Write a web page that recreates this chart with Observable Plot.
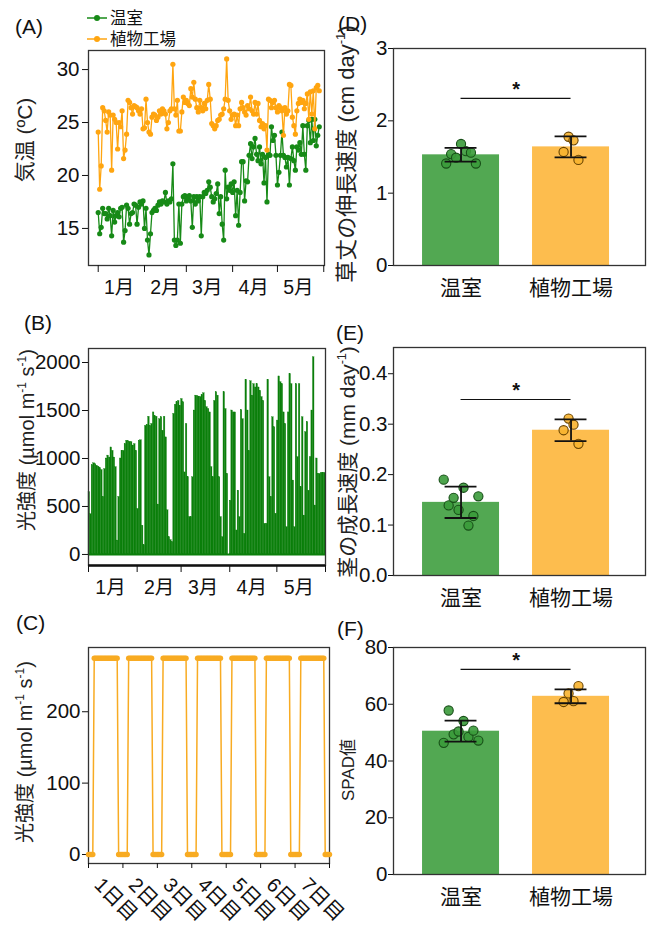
<!DOCTYPE html>
<html><head><meta charset="utf-8">
<script src="https://cdn.jsdelivr.net/npm/d3@7"></script>
<script src="https://cdn.jsdelivr.net/npm/@observablehq/plot@0.6"></script>
<style>
body{margin:0;background:#fff;}
#root{position:relative;width:650px;height:928px;overflow:hidden;background:#fff;}
.panel{position:absolute;}
.lbl{position:absolute;font-family:"Liberation Sans","Noto Sans CJK JP",sans-serif;color:#111;white-space:nowrap;line-height:1;}
.ytitle{position:absolute;transform:translate(-50%,-50%) rotate(-90deg);white-space:nowrap;font-family:"Liberation Sans","Noto Sans CJK JP",sans-serif;font-size:20px;color:#222;line-height:1;}
sup{font-size:0.6em;vertical-align:0.65em;line-height:0;}
</style></head><body><div id="root"></div>
<script>
// ---------- DATA ----------
const seriesNames = ["温室", "植物工場"];
const monthLabels = ["1月", "2月", "3月", "4月", "5月"];
// (A) daily air temperature from Jan 1 (°C)
const tempGreenhouse = [16.5,14.5,15.1,16.9,16.4,16.4,15.9,16.9,16.2,14.3,
16.7,15.6,16.2,16.5,16.1,16.9,17.0,13.7,14.8,17.2,
16.9,15.4,16.4,16.5,17.3,17.2,15.4,17.0,17.5,17.3,
17.6,15.0,16.9,13.9,12.5,14.5,16.5,16.7,16.9,16.7,
17.2,17.5,17.3,17.6,17.5,18.4,17.3,17.6,17.5,17.8,
21.1,13.9,13.4,13.9,17.3,13.6,17.3,18.0,18.1,17.6,
17.8,18.1,17.6,15.1,18.0,17.3,18.0,17.6,18.0,14.3,
18.0,18.4,18.3,18.6,19.4,18.9,18.0,17.5,17.8,18.3,
19.2,16.4,18.0,15.4,13.9,20.5,17.8,18.9,18.6,19.2,
18.4,19.4,16.2,18.6,15.3,18.4,21.3,21.3,17.6,19.5,
19.4,21.9,23.0,21.6,22.7,23.5,22.0,21.4,22.7,21.1,
22.0,19.3,21.7,17.5,22.0,21.9,24.6,23.3,23.8,21.9,
19.1,20.3,21.9,24.1,21.9,21.7,20.8,21.7,19.1,21.6,
22.7,21.4,20.5,22.7,22.4,23.1,22.0,24.7,22.0,20.5,
24.7,25.2,23.1,25.3,23.3,25.3,22.8,23.8,24.6];
const tempFactory = [24.1,18.7,20.9,26.4,26.1,25.2,24.1,26.0,25.7,20.5,
25.7,25.3,25.0,22.5,25.0,24.6,26.1,21.6,22.4,23.9,
27.1,26.9,26.4,25.8,26.6,26.5,26.4,26.1,25.8,26.3,
24.4,24.5,27.2,25.0,24.1,23.9,25.5,25.8,25.7,25.2,
25.5,26.1,25.8,26.3,26.1,25.8,24.4,25.0,26.1,26.3,
30.5,26.3,25.7,27.1,24.2,24.2,26.0,27.4,26.9,27.1,
26.8,26.6,28.2,27.4,28.8,27.2,26.4,26.0,27.1,26.4,
26.1,26.8,26.3,27.1,28.6,27.2,24.9,24.7,24.4,24.7,
25.2,25.3,25.7,25.8,26.3,27.2,31.0,27.1,26.1,25.3,
25.7,25.8,24.7,25.7,24.7,26.3,26.9,26.4,26.0,25.7,
26.6,26.3,27.4,26.1,25.8,26.9,25.8,26.8,25.2,24.6,
24.9,24.4,24.7,22.4,27.2,27.1,26.4,26.9,27.1,26.4,
26.0,26.6,26.4,26.1,23.8,26.4,25.8,26.1,28.6,28.5,
25.5,24.7,23.9,26.1,26.8,27.2,26.9,27.1,26.3,26.8,
27.7,25.3,27.9,25.8,28.0,24.4,28.3,28.5,28.0];
// (B) greenhouse daily peak light intensity from Jan 1 (µmol m-1 s-1)
const lightGreenhouse = [650,420,930,950,940,925,915,900,880,600,
890,1000,1030,1010,1115,1080,1010,910,145,600,
1000,1080,1080,1150,1185,1180,1175,1170,1135,1150,
1080,475,1185,1190,300,95,1340,1350,1435,1340,
1360,1480,1440,1435,520,1410,1430,1290,1435,1220,
460,180,150,130,1465,1560,1585,1600,1550,1620,
1585,855,1360,805,390,390,805,1500,1655,1650,
1645,1640,1660,1680,1600,1535,1515,1480,910,805,
1600,1690,1655,805,390,180,1690,1515,840,0,
560,1500,1480,1480,250,665,390,1505,1410,215,
1820,1500,1080,1805,1655,1775,1740,1775,1740,1705,
1640,1600,320,320,1820,805,600,1430,1325,425,
1395,1855,1795,1775,1480,1360,285,1480,1880,1775,
770,285,1775,1015,1775,700,1430,405,1275,1380,
665,1015,1500,2055,510,1000,840,840,850,850,850];
// (C) plant factory lighting schedule (hourly, 7 days)
const dayLabels = ["1日目","2日目","3日目","4日目","5日目","6日目","7日目"];
const lightsOnHour = [4,4,4,4,4,4,4];
const lightsOffHour = [21,21,21,21,21,21,21];
const factoryPPFD = 275;
// (D) plant height growth rate (cm day-1)
const heightGH = [1.41,1.54,1.49,1.68,1.58,1.56,1.41];
const heightPF = [1.57,1.78,1.73,1.46];
const heightMean = [1.53,1.64];
const heightSD = [0.095,0.145];
// (E) stem growth rate (mm day-1)
const stemGH = [0.190,0.139,0.154,0.130,0.174,0.099,0.118,0.157];
const stemPF = [0.288,0.311,0.299,0.261];
const stemMean = [0.145,0.288];
const stemSD = [0.031,0.0215];
// (F) SPAD
const spadGH = [46.4,57.8,49.4,50.4,54.1,48.5,50.7,47.2];
const spadPF = [60.8,63.8,61.1,66.4];
const spadMean = [50.5,62.8];
const spadSD = [3.7,2.45];
// significance bar levels
const sigLevel = [2.31,0.349,72.3];

// ---------- STYLE ----------
const FONT = '"Liberation Sans","Noto Sans CJK JP",sans-serif';
const GREEN_A = "#178a17", ORANGE_A = "#ffa510", GREEN_B = "#0b7f0b", ORANGE_C = "#f8ab22";
const BAR_FILL = ["#52a852", "#fdbd4e"], DOT_FILL = ["#3a9a3a", "#f7b22f"], DOT_STROKE = ["#174f17", "#6a4500"];
const root = document.getElementById("root");
function place(node, left, top){ const d=document.createElement("div"); d.className="panel"; d.style.left=left+"px"; d.style.top=top+"px"; d.appendChild(node); root.appendChild(d); }
function label(html, left, top, size, cls){ const d=document.createElement("div"); d.className=cls||"lbl"; d.innerHTML=html; d.style.left=left+"px"; d.style.top=top+"px"; d.style.fontSize=size+"px"; root.appendChild(d); }
const baseStyle = {fontFamily: FONT, fontSize: "20px", color: "#111", background: "transparent", overflow: "visible"};
const day = (i) => new Date(Date.UTC(2023, 0, 1 + i));
const intFmt = d3.format("d");

// ---------- (A) ----------
const aData = [
  ...tempGreenhouse.map((v,i)=>({date: day(i), v, s: seriesNames[0]})),
  ...tempFactory.map((v,i)=>({date: day(i), v, s: seriesNames[1]}))
];
const aGH = aData.filter(d=>d.s===seriesNames[0]), aPF = aData.filter(d=>d.s===seriesNames[1]);
const monthStarts = [0,1,2,3,4,5].map(m=>new Date(Date.UTC(2023,m,1)));
const monthMids = [0,1,2,3,4].map(m=>new Date(Date.UTC(2023,m,15)));
place(Plot.plot({
  width: 330, height: 310, marginLeft: 88, marginRight: 6, marginTop: 50, marginBottom: 45,
  style: baseStyle,
  x: {type: "utc", domain: [new Date(Date.UTC(2022,11,25,12)), new Date(Date.UTC(2023,5,1,12))], label: null},
  y: {domain: [11.5, 31.8], label: null},
  marks: [
    Plot.frame({stroke: "#333", strokeWidth: 1.3}),
    Plot.axisY({ticks: [15,20,25,30], tickFormat: intFmt, tickSize: 6, tickPadding: 3, fontSize: 20.5}),
    Plot.axisX({ticks: monthStarts, tickFormat: () => "", tickSize: 7}),
    Plot.axisX({ticks: monthMids, tickFormat: (d) => monthLabels[d.getUTCMonth()], tickSize: 0, tickPadding: 15, fontSize: 19.5}),
    Plot.line(aGH, {x: "date", y: "v", stroke: GREEN_A, strokeWidth: 1.3}),
    Plot.dot(aGH, {x: "date", y: "v", r: 2.6, fill: GREEN_A}),
    Plot.line(aPF, {x: "date", y: "v", stroke: ORANGE_A, strokeWidth: 1.3}),
    Plot.dot(aPF, {x: "date", y: "v", r: 2.6, fill: ORANGE_A})
  ]
}), 0, 0);

// legend (A)
const leg = document.createElement("div");
leg.className = "panel"; leg.style.left = "86px"; leg.style.top = "8px";
leg.innerHTML = `<svg width="24" height="42" style="position:absolute;left:0;top:0">
<line x1="1" x2="21" y1="10" y2="10" stroke="${GREEN_A}" stroke-width="1.5"/><circle cx="11" cy="10" r="3" fill="${GREEN_A}"/>
<line x1="1" x2="21" y1="31" y2="31" stroke="${ORANGE_A}" stroke-width="1.5"/><circle cx="11" cy="31" r="3" fill="${ORANGE_A}"/></svg>`;
root.appendChild(leg);
label(seriesNames[0], 110, 10, 16.5);
label(seriesNames[1], 110, 31, 16.5);

// ---------- (B) ----------
const bData = lightGreenhouse.map((v,i)=>({date: day(i), v}));
const bY = [-115, 2146];
place(Plot.plot({
  width: 330, height: 300, marginLeft: 88, marginRight: 5, marginTop: 48, marginBottom: 35,
  style: baseStyle,
  x: {type: "utc", domain: [day(0), day(151)], label: null},
  y: {domain: bY, label: null},
  marks: [
    Plot.rectY(bData, {x: "date", y: "v", interval: "day", fill: GREEN_B, stroke: GREEN_B, strokeWidth: 0.3, inset: 0}),
    Plot.ruleY([0], {stroke: GREEN_B, strokeWidth: 2}),
    Plot.frame({stroke: "#333", strokeWidth: 1.3}),
    Plot.ruleY([bY[0]], {stroke: "#111", strokeWidth: 2.6}),
    Plot.axisY({ticks: [0,500,1000,1500,2000], tickFormat: intFmt, tickSize: 6, tickPadding: 2, fontSize: 20.5}),
    Plot.axisX({ticks: monthStarts, tickFormat: () => "", tickSize: 7}),
    Plot.axisX({ticks: monthMids, tickFormat: (d) => monthLabels[d.getUTCMonth()], tickSize: 0, tickPadding: 15, fontSize: 19.5})
  ]
}), 0, 300);

// ---------- (C) ----------
const cData = [];
for (let dIdx = 0; dIdx < dayLabels.length; dIdx++) {
  for (let h = 0; h < 24; h++) {
    cData.push({hour: dIdx*24 + h, v: (h >= lightsOnHour[dIdx] && h < lightsOffHour[dIdx]) ? factoryPPFD : 0});
  }
}
cData.push({hour: dayLabels.length*24, v: 0});
const dayStarts = d3.range(dayLabels.length + 1).map(i=>i*24);
const dayMids = d3.range(dayLabels.length).map(i=>i*24+12);
place(Plot.plot({
  width: 340, height: 328, marginLeft: 88, marginRight: 11, marginTop: 47, marginBottom: 65,
  style: baseStyle,
  x: {domain: [0, 168], label: null},
  y: {domain: [-12.6, 290], label: null},
  marks: [
    Plot.frame({stroke: "#333", strokeWidth: 1.3}),
    Plot.axisY({ticks: [0,100,200], tickFormat: intFmt, tickSize: 6, tickPadding: 2, fontSize: 20.5}),
    Plot.axisX({ticks: dayStarts, tickFormat: () => "", tickSize: 5}),
    Plot.axisX({ticks: dayMids, tickFormat: (d) => dayLabels[(d-12)/24], tickRotate: 45, tickSize: 0, tickPadding: 8, dx: -8, dy: 10, fontSize: 20}),
    Plot.line(cData, {x: "hour", y: "v", stroke: ORANGE_C, strokeWidth: 1.5}),
    Plot.dot(cData, {x: "hour", y: "v", r: 2.7, fill: ORANGE_C})
  ]
}), 0, 600);

// ---------- (D)(E)(F) ----------
function barPanel(opts){
  const {ptsGH, ptsPF, means, sds, yDomain, yTicks, fmt, sig, top, height, mTop, mBottom} = opts;
  const bars = means.map((m,i)=>({i, m, sd: sds[i]}));
  const pts = [];
  [ptsGH, ptsPF].forEach((arr, g)=>{
    const n = arr.length, spread = 0.045*(n-1);
    arr.forEach((v,k)=>pts.push({g, v, x: g + (n>1 ? (k/(n-1)-0.5)*spread : 0)}));
  });
  place(Plot.plot({
    width: 320, height, marginLeft: 63, marginRight: 5, marginTop: mTop, marginBottom: mBottom,
    style: baseStyle,
    x: {domain: [-0.614, 1.677], label: null},
    y: {domain: yDomain, label: null},
    marks: [
      Plot.rectY(bars, {x1: d=>d.i-0.35, x2: d=>d.i+0.35, y1: yDomain[0], y2: "m", fill: d=>BAR_FILL[d.i]}),
      Plot.dot(pts, {x: "x", y: "v", r: 4.6, fill: d=>DOT_FILL[d.g], fillOpacity: 0.9, stroke: d=>DOT_STROKE[d.g], strokeWidth: 1.1}),
      Plot.ruleX(bars, {x: "i", y1: d=>d.m-d.sd, y2: d=>d.m+d.sd, stroke: "#111", strokeWidth: 1.8}),
      Plot.ruleY(bars, {y: d=>d.m+d.sd, x1: d=>d.i-0.145, x2: d=>d.i+0.145, stroke: "#111", strokeWidth: 1.8}),
      Plot.ruleY(bars, {y: d=>d.m-d.sd, x1: d=>d.i-0.145, x2: d=>d.i+0.145, stroke: "#111", strokeWidth: 1.8}),
      Plot.ruleY([sig], {x1: 0, x2: 1, stroke: "#111", strokeWidth: 1.1}),
      Plot.text([sig], {x: 0.5, y: d=>d, text: () => "*", dy: -9, fontSize: 20, fontWeight: "bold", fill: "#111"}),
      Plot.frame({stroke: "#333", strokeWidth: 1.3}),
      Plot.axisY({ticks: yTicks, tickFormat: fmt, tickSize: 5, tickPadding: 1, fontSize: 20.5}),
      Plot.axisX({ticks: [0,1], tickFormat: d=>seriesNames[d], tickSize: 0, tickPadding: 15, fontSize: 21})
    ]
  }), 330, top);
}
barPanel({ptsGH: heightGH, ptsPF: heightPF, means: heightMean, sds: heightSD, yDomain: [0,3], yTicks: [0,1,2,3], fmt: intFmt, sig: sigLevel[0], top: 0, height: 310, mTop: 48, mBottom: 45});
barPanel({ptsGH: stemGH, ptsPF: stemPF, means: stemMean, sds: stemSD, yDomain: [0,0.452], yTicks: [0,0.1,0.2,0.3,0.4], fmt: d3.format(".1f"), sig: sigLevel[1], top: 310, height: 300, mTop: 37, mBottom: 35});
barPanel({ptsGH: spadGH, ptsPF: spadPF, means: spadMean, sds: spadSD, yDomain: [0,80], yTicks: [0,20,40,60,80], fmt: intFmt, sig: sigLevel[2], top: 610, height: 318, mTop: 37, mBottom: 54});

// ---------- panel letters & axis titles ----------
label("(A)", 15, 16, 21); label("(B)", 24, 312, 21); label("(C)", 16, 612, 21);
label("(D)", 338, 13, 21); label("(E)", 336, 322, 21); label("(F)", 337, 618, 21);
label("気温 (ºC)", 24, 140, 21, "ytitle");
label("光強度 (µmol m<sup>-1</sup> s<sup>-1</sup>)", 27, 440, 20, "ytitle");
label("光強度 (µmol m<sup>-1</sup> s<sup>-1</sup>)", 25, 752, 20, "ytitle");
label("草丈の伸長速度 (cm day<sup>-1</sup>)", 347, 154, 22, "ytitle");
label("茎の成長速度 (mm day<sup>-1</sup>)", 347, 462, 21, "ytitle");
label("SPAD値", 348, 770, 17, "ytitle");
</script></body></html>
